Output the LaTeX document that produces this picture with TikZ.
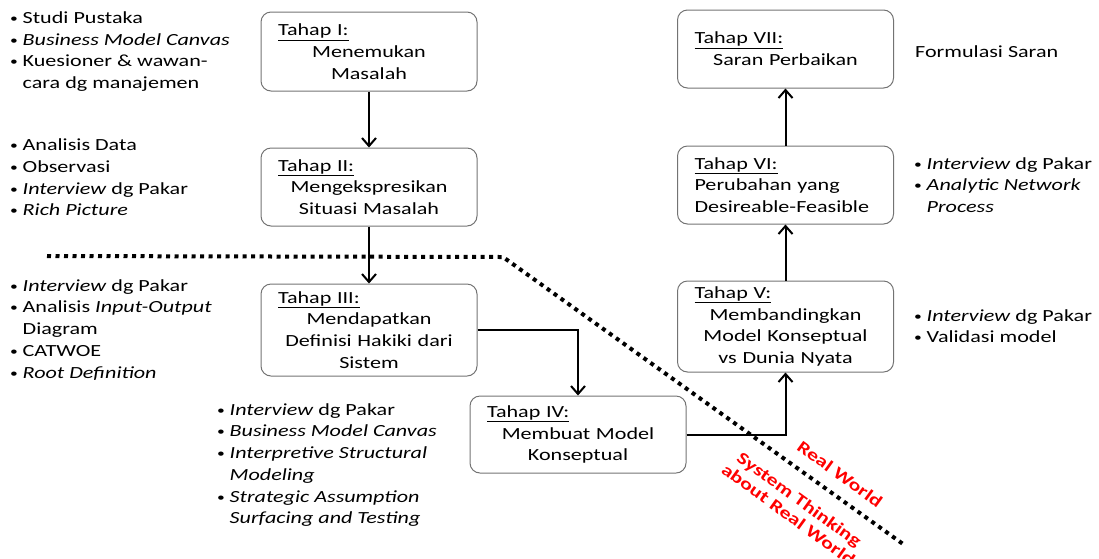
\documentclass[tikz,border=0pt]{standalone}
\usepackage{fontspec}
\setmainfont{Carlito}[FakeStretch=1.3]
\usetikzlibrary{arrows.meta,positioning}
\newcommand{\tahap}[1]{\underline{#1}\hfill\mbox{}}
\newcommand{\itm}{\makebox[12.5pt][l]{\raisebox{1pt}{\fontsize{12}{12}\selectfont\textbullet}}}
\newcommand{\cont}{\hspace*{12.5pt}}

\begin{document}
\begin{tikzpicture}[x=1pt, y=-1pt,
    font=\fontsize{17}{21.7}\selectfont,
    stage/.style={draw=black!55, line width=1pt, rounded corners=10pt, align=center,
        text width=182pt, inner xsep=17pt, inner ysep=0pt, minimum height=78pt},
    note/.style={anchor=north west, align=left, inner sep=0pt},
    link/.style={-{Straight Barb[length=8pt, width=14pt]}, line width=2pt},
    border/.style={line width=4pt, dash pattern=on 4pt off 4.5pt},
    world/.style={text=red, font=\fontsize{17}{18.5}\selectfont\bfseries, rotate=-36, align=center}]
    \useasboundingbox (0,0) rectangle (1099,558);
    \node[stage, minimum height=79pt] (s1) at (369,51.5) {\tahap{Tahap I:}\\ Menemukan\\ Masalah};
    \node[stage, below=56pt of s1] (s2) {\tahap{Tahap II:}\\ Mengekspresikan\\ Situasi Masalah};
    \node[stage, below=57pt of s2, minimum height=92pt] (s3) {\tahap{Tahap III:}\\ Mendapatkan\\ Definisi Hakiki dari\\ Sistem};
    \node[stage, minimum height=77pt] (s4) at (578,434.5) {\tahap{Tahap IV:}\\ Membuat Model\\ Konseptual};
    \node[stage, minimum height=91pt] (s5) at (785.5,326.5) {\tahap{Tahap V:}\\ Membandingkan\\ Model Konseptual\\ vs Dunia Nyata};
    \node[stage, align=left, above=56pt of s5] (s6) {\underline{Tahap VI:}\\ Perubahan yang\\ Desireable-Feasible};
    \node[stage, above=57pt of s6] (s7) {\tahap{Tahap VII:}\\ Saran Perbaikan};
    \node[note] (m1) at (10,8.1) {\strut\itm Studi Pustaka\\ \itm\textit{Business Model Canvas}\\ \itm Kuesioner \& wawan-\\ \cont cara dg manajemen};
    \node[note] (m2) at (10,135.5) {\strut\itm Analisis Data\\ \itm Observasi\\ \itm\textit{Interview} dg Pakar\\ \itm\textit{Rich Picture}};
    \node[note] (m3) at (10,275.8) {\strut\itm\textit{Interview} dg Pakar\\ \itm Analisis \textit{Input-Output}\\ \cont Diagram\\ \itm CATWOE\\ \itm\textit{Root Definition}};
    \node[note] (m4) at (217,399.8) {\strut\itm\textit{Interview} dg Pakar\\ \itm\textit{Business Model Canvas}\\ \itm\textit{Interpretive Structural}\\ \cont\textit{Modeling}\\ \itm\textit{Strategic Assumption}\\ \cont\textit{Surfacing and Testing}};
    \node[note] (m5) at (914,305.8) {\strut\itm\textit{Interview} dg Pakar\\ \itm Validasi model};
    \node[note] (m6) at (914,153.8) {\strut\itm\textit{Interview} dg Pakar\\ \itm\textit{Analytic Network}\\ \cont\textit{Process}};
    \node[note] (m7) at (915,41.8) {\strut Formulasi Saran};
    \draw[border] (47,256) -- (503,257) -- (903,544);
    \node[world] (rw) at (840,474) {Real World};
    \node[world] (st) at (794,507) {System Thinking\\ about Real World};
    \draw[link] (s1) -- (s2);
    \draw[link] (s2) -- (s3);
    \draw[link] (s3.east) -| (s4.north);
    \draw[link] (s4.east) -| (s5.south);
    \draw[link] (s5) -- (s6);
    \draw[link] (s6) -- (s7);
\end{tikzpicture}
\end{document}
